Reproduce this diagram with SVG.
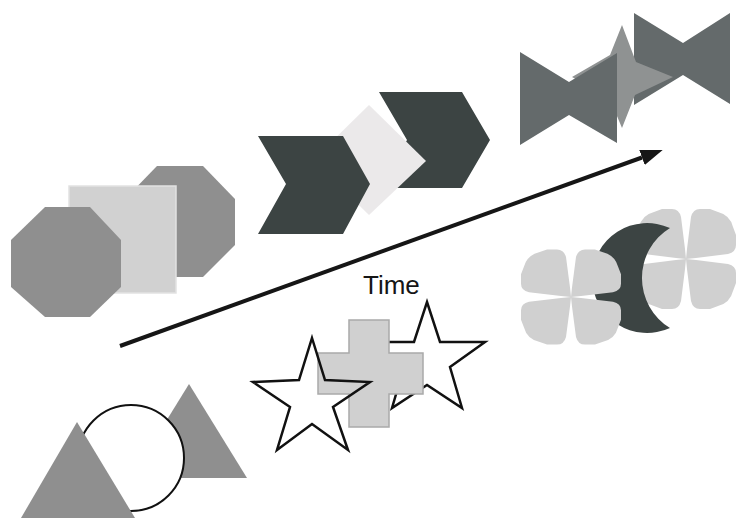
<svg xmlns="http://www.w3.org/2000/svg" width="749" height="529" viewBox="0 0 749 529">
  <style>
    .oct { fill: #8f8f8f; }
    .sq { fill: #d1d1d1; stroke: #e2e2e2; stroke-width: 1.5; }
    .chev { fill: #3c4443; }
    .diam { fill: #ebe9ea; }
    .bow { fill: #646a6b; }
    .star4 { fill: #8f9292; }
    .flower { fill: #d0d0d0; }
    .moon { fill: #3c4443; }
    .tri { fill: #8f8f8f; }
    .circ { fill: #ffffff; stroke: #111111; stroke-width: 2; }
    .star5 { stroke: #111111; stroke-width: 2.5; stroke-linejoin: miter; }
    .cross { fill: #d0d0d0; stroke: #a9a9a9; stroke-width: 1.5; }
    .conn { stroke: #161616; stroke-width: 4; fill: none; }
    .label { font-family: "Liberation Sans", Arial, sans-serif; font-size: 26px; fill: #161616; }
  </style>
  <defs>
    <path id="flowerShape" d="M0,0 L-1,-10 L-5,-42 Q-7,-50 -14,-50 L-24,-50 L-32,-47 Q-44,-44 -47,-32 L-50,-24 L-50,-14 Q-50,-7 -42,-5 L-10,-1 Z M0,0 L1,-10 L5,-42 Q7,-50 14,-50 L24,-50 L32,-47 Q44,-44 47,-32 L50,-24 L50,-14 Q50,-7 42,-5 L10,-1 Z M0,0 L-1,10 L-5,42 Q-7,50 -14,50 L-24,50 L-32,47 Q-44,44 -47,32 L-50,24 L-50,14 Q-50,7 -42,5 L-10,1 Z M0,0 L1,10 L5,42 Q7,50 14,50 L24,50 L32,47 Q44,44 47,32 L50,24 L50,14 Q50,7 42,5 L10,1 Z"/>
    <marker id="arrowHead" markerUnits="userSpaceOnUse" markerWidth="22" markerHeight="16" refX="0" refY="8" orient="auto" viewBox="0 0 22 16">
      <path d="M0,0 L22,8 L0,16 Z" fill="#161616"/>
    </marker>
  </defs>

  <!-- octagons and square -->
  <g id="octagon-back"><polygon class="oct" points="157,166 203,166 235,199 235,245 203,277 157,277 125,245 125,199"/></g>
  <g id="square"><rect class="sq" x="69" y="186" width="107" height="107"/></g>
  <g id="octagon-front"><polygon class="oct" points="45,207 90,207 121,240 121,287 90,317 45,317 11,287 11,240"/></g>

  <!-- chevrons and diamond -->
  <g id="chevron-right"><polygon class="chev" points="379,92 462,92 490,140 462,188 379,188 407,140"/></g>
  <g id="diamond"><polygon class="diam" points="369,105 426,161 369,215 313,160"/></g>
  <g id="chevron-left"><polygon class="chev" points="258,136 343,136 370,184 343,234 258,234 286,184"/></g>

  <!-- bowties and 4-point star -->
  <g id="bowtie-right"><polygon class="bow" points="634,13 683,43 730,13 730,104 683,75 634,105"/></g>
  <g id="star4"><polygon class="star4" points="622,25 636,62 673,77 635,95 622,128 609,97 572,77 610,55"/></g>
  <g id="bowtie-left"><polygon class="bow" points="520,52 569,82 617,53 617,143 569,115 520,145"/></g>

  <!-- flowers and moon -->
  <g id="flower-right"><use href="#flowerShape" class="flower" transform="translate(686,259)"/></g>
  <g id="moon"><path class="moon" d="M670,228 A55,55 0 1 0 670,328 A58.6,58.6 0 0 1 670,228 Z"/></g>
  <g id="flower-left"><use href="#flowerShape" class="flower" transform="translate(571,297) scale(1,0.95)"/></g>

  <!-- stars and cross -->
  <g id="star-right"><polygon class="star5" fill="#ffffff" points="427,302 440,342 485,342 450,367 462,408 427,385 392,408 404,367 369,342 414,342"/></g>
  <g id="cross"><polygon class="cross" points="349,320 389,320 389,353 423,353 423,394 389,394 389,427 349,427 349,394 318,394 318,353 349,353"/></g>
  <g id="star-left"><polygon class="star5" fill="none" points="312,338 325,380 370,382 333,407 348,450 312,424 277,450 290,407 253,382 299,380"/></g>

  <!-- triangles and circle -->
  <g id="triangle-right"><polygon class="tri" points="189,384 247,478 131,478"/></g>
  <g id="circle"><circle class="circ" cx="131" cy="458" r="53"/></g>
  <g id="triangle-left"><polygon class="tri" points="77,422 135,518 21,518"/></g>

  <!-- connector -->
  <g id="connectors">
    <line class="conn" x1="120" y1="346" x2="642" y2="157.5" marker-end="url(#arrowHead)"/>
  </g>
  <g id="label-time"><text class="label" x="363" y="294">Time</text></g>
</svg>
